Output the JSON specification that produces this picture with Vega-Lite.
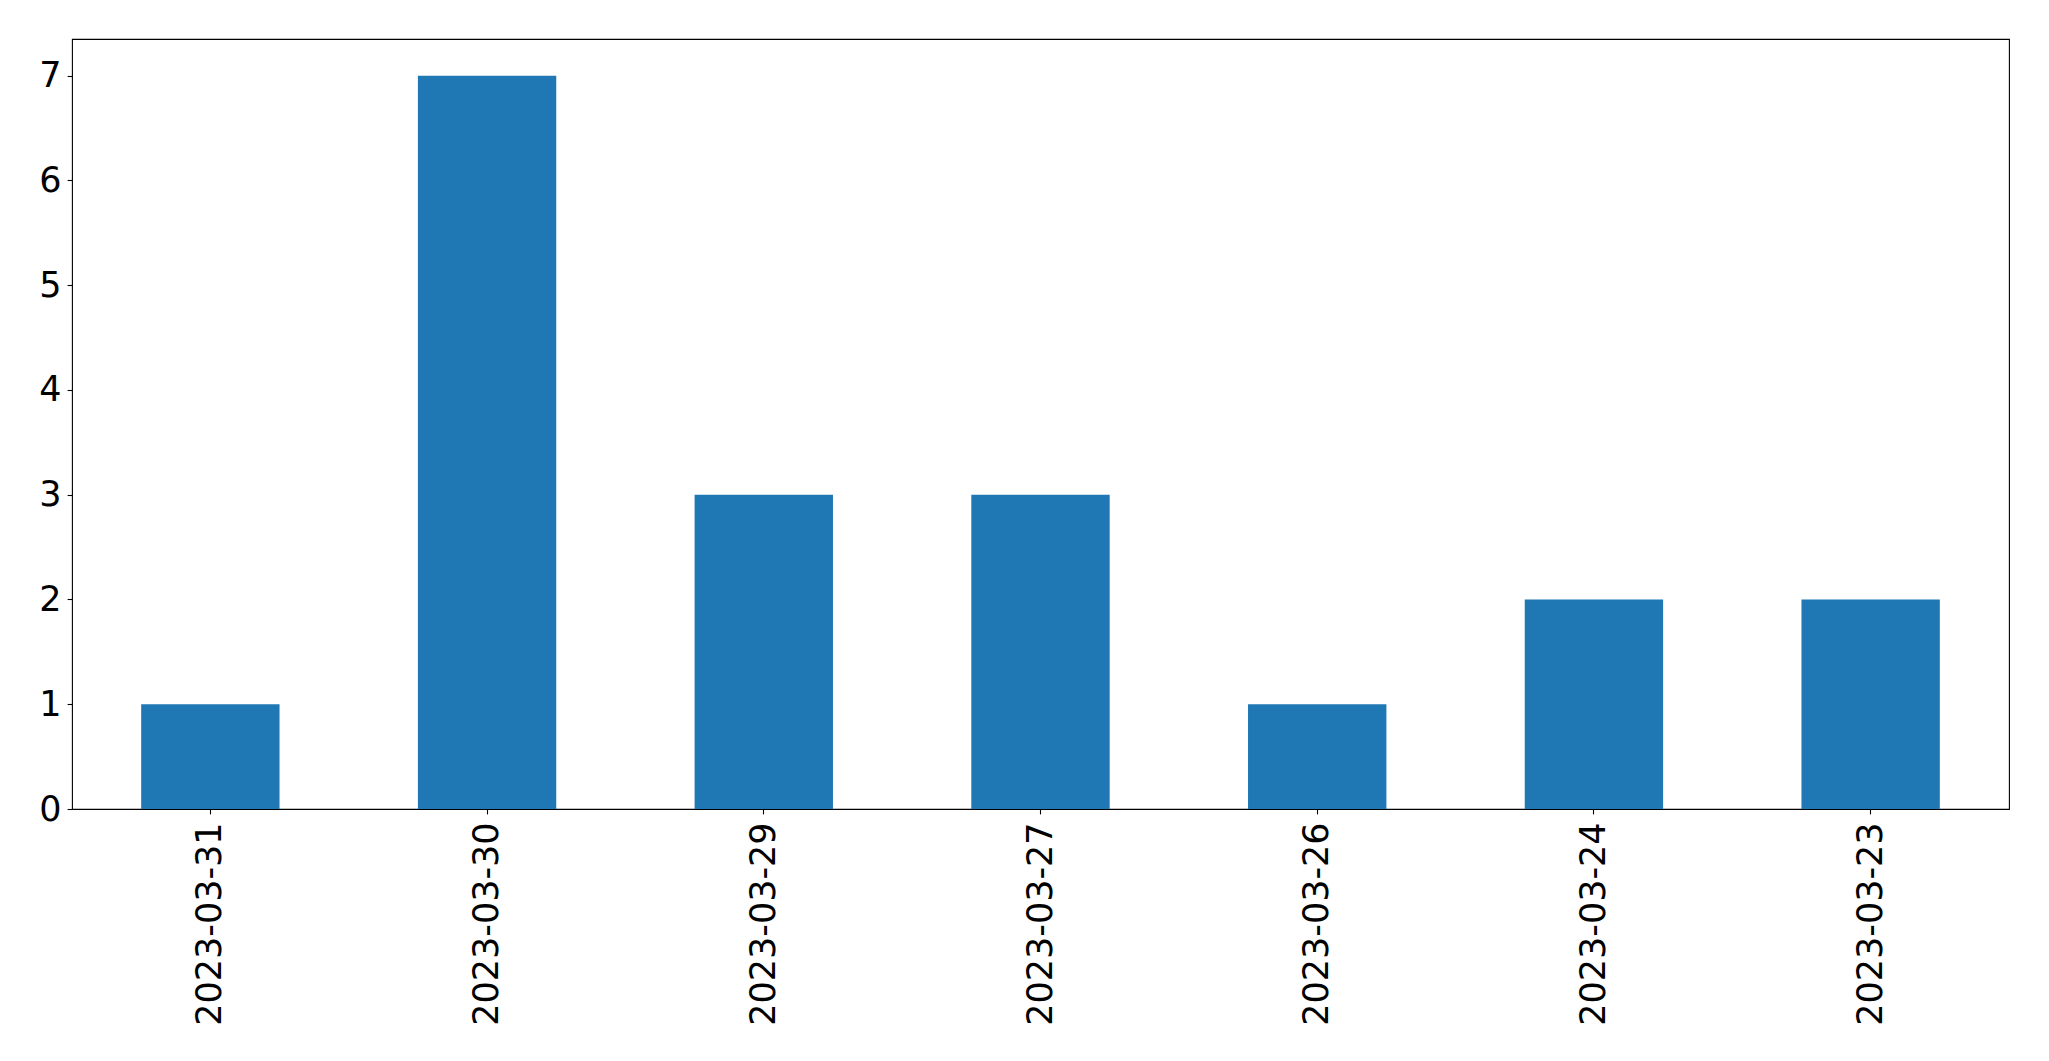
{
  "$schema": "https://vega.github.io/schema/vega-lite/v6.json",
  "autosize": {"type": "none"},
  "padding": {"left": 72, "top": 39, "right": 40, "bottom": 252},
  "width": 1937,
  "height": 770,
  "background": "white",
  "data": {"values": [
    {"date": "2023-03-31", "count": 1},
    {"date": "2023-03-30", "count": 7},
    {"date": "2023-03-29", "count": 3},
    {"date": "2023-03-27", "count": 3},
    {"date": "2023-03-26", "count": 1},
    {"date": "2023-03-24", "count": 2},
    {"date": "2023-03-23", "count": 2}
  ]},
  "mark": {"type": "bar", "color": "#1f77b4"},
  "encoding": {
    "x": {
      "field": "date", "type": "nominal", "sort": null,
      "scale": {"paddingInner": 0.5, "paddingOuter": 0.25},
      "axis": {
        "title": null, "labelAngle": -90, "labelFont": "DejaVu Sans", "labelFontSize": 35,
        "labelLimit": 0, "labelColor": "black", "tickColor": "black", "tickSize": 4.9, "tickWidth": 1.1,
        "domain": false, "labelPadding": 8, "grid": false
      }
    },
    "y": {
      "field": "count", "type": "quantitative",
      "scale": {"domain": [0, 7.35], "nice": false, "zero": true},
      "axis": {
        "title": null, "values": [0, 1, 2, 3, 4, 5, 6, 7], "labelFont": "DejaVu Sans", "labelFontSize": 35,
        "labelColor": "black", "tickColor": "black", "tickSize": 4.9, "tickWidth": 1.1,
        "domain": false, "labelPadding": 6, "grid": false
      }
    }
  },
  "config": {
    "view": {"stroke": "black", "strokeWidth": 1.1}
  }
}
